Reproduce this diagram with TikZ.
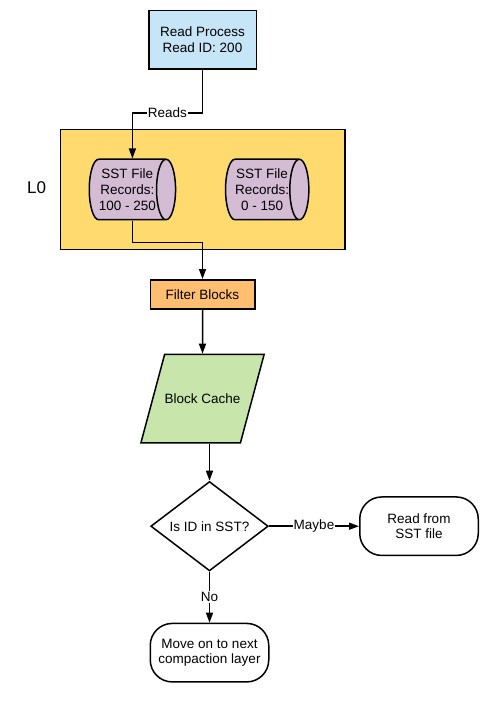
\documentclass[tikz,border=0pt]{standalone}
\usepackage{fontspec}
\setmainfont{Liberation Sans}
\usetikzlibrary{arrows.meta,positioning,shapes.geometric}
\definecolor{rdblue}{RGB}{198,229,247}
\definecolor{lvyellow}{RGB}{255,218,110}
\definecolor{sstmauve}{RGB}{212,189,212}
\definecolor{fltorange}{RGB}{255,190,112}
\definecolor{cchgreen}{RGB}{200,230,172}
\tikzset{
  rblk/.style={rectangle, draw=black, line width=1.5pt, align=center, inner sep=0pt,
               font=\fontsize{13.5}{15.7}\selectfont},
  sstcyl/.style={cylinder, draw=black, line width=1.5pt, fill=sstmauve, aspect=0.46,
               align=center, inner sep=0pt, minimum width=60.5pt, minimum height=81.5pt,
               font=\fontsize{13.5}{15.7}\selectfont},
  term/.style={rblk, rounded corners=22pt, minimum width=118.5pt, minimum height=58.5pt},
  oarr/.style={-{Triangle[length=10pt,width=7pt]}, line width=1.5pt},
  elbl/.style={fill=white, inner sep=1pt, font=\fontsize{13.5}{15.7}\selectfont},
}
\begin{document}
\begin{tikzpicture}
        \useasboundingbox (0,0) rectangle (503pt,-703pt);
        \node[rblk,fill=rdblue,minimum width=107.5pt,minimum height=58.5pt] (read) at (202.5pt,-40pt) {Read Process\\Read ID: 200};
        \node[rblk,fill=lvyellow,minimum width=284.5pt,minimum height=119.5pt,below=59pt of read] (l0) {};
        \node[font=\fontsize{17}{18}\selectfont,left=10pt of l0,yshift=2pt] (l0lbl) {L0};
        \node[sstcyl,right=29pt of l0.west] (sst1) {SST File\\Records:\\100 - 250};
        \node[sstcyl,right=48.5pt of sst1] (sst2) {SST File\\Records:\\0 - 150};
        \node[rblk,fill=fltorange,minimum width=104.5pt,minimum height=29.2pt,below=29pt of l0] (filter) {Filter Blocks};
        \node[trapezium,draw=black,line width=1.5pt,fill=cchgreen,trapezium left angle=75,trapezium right angle=105,
              trapezium stretches body=true,minimum width=119.5pt,inner xsep=0pt,inner ysep=39.3pt,
              font=\fontsize{13.5}{15.7}\selectfont,below=44pt of filter] (cache) {Block Cache};
        \node[diamond,draw=black,line width=1.5pt,minimum width=117.5pt,minimum height=87pt,inner sep=0pt,
              font=\fontsize{13.5}{15.7}\selectfont,below=37pt of cache,xshift=7pt] (dec) {Is ID in SST?};
        \node[term,right=90pt of dec] (sstrd) {Read from\\SST file};
        \node[term,below=51pt of dec] (move) {Move on to next\\compaction layer};
        \draw[oarr](read.south)--++(0,-43pt)-|node[elbl,pos=0.25]{Reads}(sst1.north -| sst1.shape center);
        \draw[oarr](sst1.south -| sst1.shape center)--++(0,-22pt)-|(filter.north);
        \draw[oarr](filter)--(cache);
        \draw[oarr](cache.south -| dec.north)--(dec.north);
        \draw[oarr](dec.east)--node[elbl]{Maybe}(sstrd.west);
        \draw[oarr](dec.south)--node[elbl]{No}(move.north);
    \end{tikzpicture}
\end{document}
